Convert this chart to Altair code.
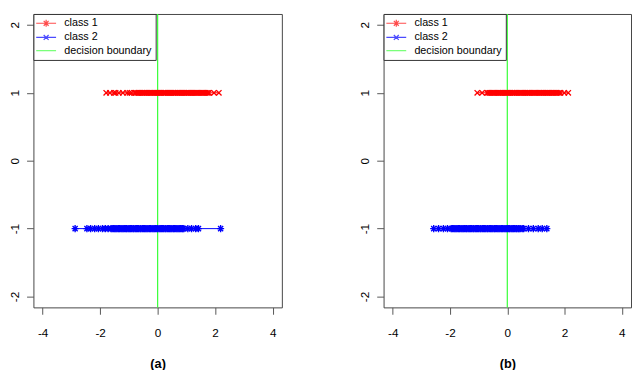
import altair as alt
import pandas as pd

# ---------------- data ----------------
panel_names = ["(a)", "(b)"]
series_names = ["class 1", "class 2", "decision boundary"]
series_colors = ["#ff0000", "#0000ff", "#33ff33"]
class_levels = {"class 1": 1, "class 2": -1}
boundary_x = [0]
x_ticks = [-4, -2, 0, 2, 4]
y_ticks = [-2, -1, 0, 1, 2]

class1_a = [-1.79, -1.66, -1.52, -1.46, -1.35, -1.21, -1.06, -0.98, -0.91,
            -0.80, -0.76, -0.71, -0.67, -0.64, -0.59, -0.55, -0.52, -0.47, -0.44,
            -0.39, -0.36, -0.32, -0.27, -0.24, -0.20, -0.15, -0.12, -0.08, -0.04,
            -0.01, 0.03, 0.07, 0.10, 0.14, 0.19, 0.22, 0.26, 0.29, 0.34, 0.37,
            0.41, 0.45, 0.48, 0.53, 0.56, 0.60, 0.63, 0.68, 0.71, 0.75, 0.79,
            0.83, 0.86, 0.91, 0.94, 0.98, 1.02, 1.06, 1.09, 1.14, 1.17, 1.21,
            1.25, 1.29, 1.33, 1.37, 1.41, 1.45, 1.50, 1.54, 1.58, 1.62, 1.66,
            1.71, 1.75, 1.79, 1.96, 2.13]
class2_a = [-2.87, -2.46, -2.33, -2.19, -2.06, -1.92, -1.82, -1.72,
            -1.62, -1.58, -1.53, -1.49, -1.45, -1.41, -1.36, -1.33, -1.28, -1.24,
            -1.20, -1.16, -1.11, -1.08, -1.03, -0.99, -0.95, -0.91, -0.86, -0.83,
            -0.78, -0.74, -0.70, -0.66, -0.61, -0.58, -0.53, -0.49, -0.45, -0.41,
            -0.37, -0.33, -0.28, -0.25, -0.20, -0.16, -0.12, -0.08, -0.03, 0.00,
            0.05, 0.09, 0.13, 0.17, 0.21, 0.26, 0.29, 0.34, 0.38, 0.42, 0.46,
            0.50, 0.55, 0.58, 0.63, 0.67, 0.71, 0.75, 0.79, 0.84, 0.87, 0.91,
            1.05, 1.18, 1.32, 1.42, 2.19]
class1_b = [-1.05, -0.88,
            -0.71, -0.67, -0.62, -0.59, -0.54, -0.50, -0.46, -0.42, -0.38, -0.33,
            -0.30, -0.25, -0.21, -0.17, -0.13, -0.09, -0.05, -0.01, 0.03, 0.07,
            0.11, 0.16, 0.19, 0.24, 0.27, 0.32, 0.35, 0.40, 0.44, 0.48, 0.52,
            0.56, 0.60, 0.64, 0.69, 0.72, 0.77, 0.80, 0.85, 0.89, 0.93, 0.97,
            1.01, 1.05, 1.10, 1.13, 1.18, 1.22, 1.26, 1.30, 1.34, 1.39, 1.42,
            1.47, 1.51, 1.55, 1.59, 1.63, 1.68, 1.72, 1.76, 1.81, 1.86, 1.99, 2.13]
class2_b = [-2.57, -2.40, -2.23, -2.09,
            -1.96, -1.92, -1.87, -1.83, -1.79, -1.75, -1.70, -1.67, -1.62, -1.58,
            -1.54, -1.50, -1.45, -1.42, -1.37, -1.33, -1.29, -1.25, -1.20, -1.17,
            -1.12, -1.08, -1.04, -1.00, -0.95, -0.92, -0.87, -0.83, -0.79, -0.75,
            -0.70, -0.67, -0.62, -0.58, -0.54, -0.50, -0.45, -0.42, -0.37, -0.33,
            -0.29, -0.25, -0.20, -0.17, -0.12, -0.08, -0.04, 0.00, 0.05, 0.08,
            0.13, 0.17, 0.21, 0.25, 0.30, 0.33, 0.38, 0.41, 0.45,
            0.52, 0.57, 0.74, 0.91, 1.08, 1.22, 1.38]

panel_data = {"(a)": (class1_a, class2_a), "(b)": (class1_b, class2_b)}

rows = []
for pname, (c1, c2) in panel_data.items():
    rows += [{"panel": pname, "series": "class 1", "x": v, "y": class_levels["class 1"]} for v in c1]
    rows += [{"panel": pname, "series": "class 2", "x": v, "y": class_levels["class 2"]} for v in c2]
df = pd.DataFrame(rows)
df_boundary = pd.DataFrame({"x": boundary_x})

# marker glyphs (unit = half marker size)
X_SHAPE = "M-0.75,-0.75L0.75,0.75M-0.75,0.75L0.75,-0.75"
STAR_SHAPE = "M-1,0H1M0,-1V1M-0.72,-0.72L0.72,0.72M-0.72,0.72L0.72,-0.72"
legend_paths = [
    "M-2.9,0H2.9M0,-1V1M-0.72,-0.72L0.72,0.72M-0.72,0.72L0.72,-0.72",
    "M-2.9,0H2.9M-0.72,-0.72L0.72,0.72M-0.72,0.72L0.72,-0.72",
    "M-2.9,0H2.9",
]

FONT = "Liberation Sans"


def panel_chart(name, width):
    xs = alt.Scale(domain=[-4.32, 4.32], nice=False, zero=False)
    ys = alt.Scale(domain=[-2.16, 2.16], nice=False, zero=False)
    xenc = alt.X("x:Q", scale=xs, axis=alt.Axis(
        values=x_ticks, title=name, labelExpr="'' + datum.value",
        labelPadding=14, titlePadding=19, titleFontWeight="bold",
        titleFontSize=13, titleFont=FONT))
    yenc = alt.Y("y:Q", scale=ys, axis=alt.Axis(
        values=y_ticks, title=None, labelExpr="'' + datum.value",
        labelAngle=270, labelAlign="center", labelBaseline="bottom",
        labelPadding=5))

    base = alt.Chart(df).transform_filter(alt.datum.panel == name)
    c1 = base.transform_filter(alt.datum.series == "class 1")
    c2 = base.transform_filter(alt.datum.series == "class 2")

    line1 = c1.mark_line(color="#ff0000", strokeWidth=1).encode(x=xenc, y=yenc)
    pts1 = c1.mark_point(shape=X_SHAPE, size=52, filled=False, color="#ff0000",
                         strokeWidth=1.4, opacity=1).encode(x=xenc, y=yenc)
    line2 = c2.mark_line(color="#0000ff", strokeWidth=1).encode(x=xenc, y=yenc)
    pts2 = c2.mark_point(shape=STAR_SHAPE, size=52, filled=False, color="#0000ff",
                         strokeWidth=1.4, opacity=1).encode(x=xenc, y=yenc)
    rule = alt.Chart(df_boundary).mark_rule(color=series_colors[2], strokeWidth=1.2).encode(x=xenc)

    leg = alt.Legend(title=None, orient="top-left", offset=0, padding=4,
                     strokeColor="#333333", fillColor="white", cornerRadius=0,
                     labelFont=FONT, labelFontSize=11, labelColor="black",
                     symbolSize=49, symbolStrokeWidth=1.2, symbolOffset=3.5,
                     labelOffset=13, rowPadding=1.5)
    legend_layer = base.transform_filter("false").mark_point(filled=False).encode(
        x=xenc, y=yenc,
        color=alt.Color("series:N", scale=alt.Scale(domain=series_names, range=series_colors), legend=leg),
        shape=alt.Shape("series:N", scale=alt.Scale(domain=series_names, range=legend_paths), legend=leg),
    )
    return alt.layer(rule, line1, pts1, line2, pts2, legend_layer).properties(width=width, height=300)


chart = alt.hconcat(panel_chart("(a)", 254), panel_chart("(b)", 253), spacing=77).resolve_scale(
    color="independent", shape="independent", x="independent", y="independent"
).resolve_legend(color="independent", shape="independent").properties(
    padding={"left": 0, "top": 0, "right": 0, "bottom": 0}
).configure_view(stroke="#444444", strokeWidth=1).configure_axis(
    domain=False, grid=False, tickSize=7, tickColor="#555555", tickWidth=1,
    labelFont=FONT, labelFontSize=12, labelColor="black", titleColor="black"
)

chart.save("out.html", embed_options={"renderer": "svg", "actions": False})
